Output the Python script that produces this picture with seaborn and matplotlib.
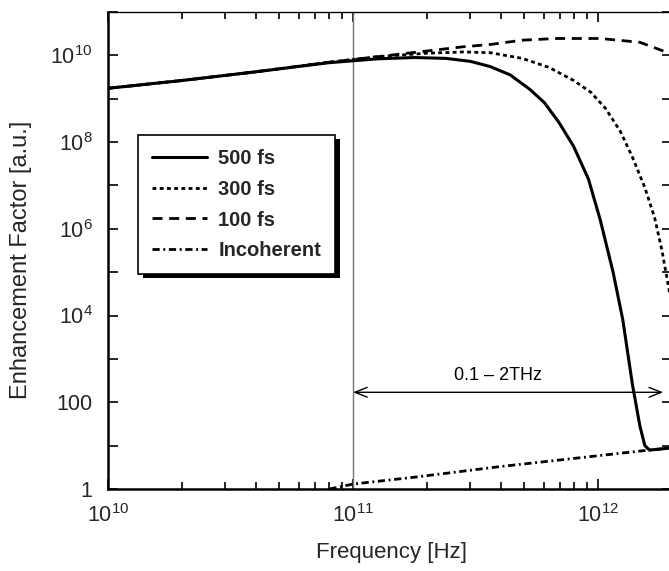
import matplotlib
matplotlib.use("Agg")
import matplotlib.pyplot as plt
import seaborn as sns
import pandas as pd
from matplotlib.patches import Rectangle
from matplotlib.ticker import FixedLocator, LogLocator, NullFormatter, NullLocator

# ---------------- data ----------------
freq_500 = [1.0e10, 2.0e10, 4.0e10, 7.94e10, 1.26e11, 1.78e11, 2.4e11, 3.02e11,
            3.63e11, 4.37e11, 5.25e11, 6.03e11, 6.92e11, 7.94e11, 9.12e11, 1.02e12,
            1.15e12, 1.26e12, 1.38e12, 1.48e12, 1.55e12, 1.62e12, 2.0e12]
enh_500 = [1.74e9, 2.63e9, 4.17e9, 6.76e9, 8.32e9, 8.91e9, 8.51e9, 7.24e9,
           5.5e9, 3.55e9, 1.66e9, 8.13e8, 2.82e8, 7.94e7, 1.41e7, 1.58e6,
           1.0e5, 7.94e3, 251, 28, 10, 7.9, 8.9]

freq_300 = [1.0e10, 2.0e10, 4.0e10, 7.94e10, 1.26e11, 2.0e11, 2.82e11, 3.63e11,
            4.9e11, 6.31e11, 7.94e11, 9.33e11, 1.07e12, 1.23e12, 1.38e12, 1.55e12,
            1.7e12, 1.82e12, 1.91e12, 2.0e12]
enh_300 = [1.74e9, 2.63e9, 4.17e9, 6.92e9, 9.33e9, 1.12e10, 1.2e10, 1.15e10,
           8.51e9, 5.25e9, 2.63e9, 1.41e9, 6.03e8, 1.78e8, 4.47e7, 8.91e6,
           1.78e6, 3.16e5, 7.08e4, 1.58e4]

freq_100 = [1.0e10, 2.0e10, 4.0e10, 7.94e10, 1.26e11, 2.0e11, 2.82e11, 3.63e11,
            4.9e11, 6.76e11, 1.02e12, 1.48e12, 1.91e12, 2.0e12]
enh_100 = [1.74e9, 2.63e9, 4.17e9, 6.92e9, 9.33e9, 1.26e10, 1.58e10, 1.78e10,
           2.24e10, 2.45e10, 2.45e10, 2.0e10, 1.17e10, 1.0e10]

freq_inc = [8.0e10, 1.0e11, 1.82e11, 3.89e11, 7.0e11, 1.51e12, 2.0e12]
enh_inc = [1.0, 1.3, 1.9, 3.24, 4.68, 7.59, 8.9]

series_labels = ["500 fs", "300 fs", "100 fs", "Incoherent"]

x_ticks = [1e10, 1e11, 1e12]
x_ticklabels = [r"$\mathdefault{10^{10}}$", r"$\mathdefault{10^{11}}$", r"$\mathdefault{10^{12}}$"]
y_ticks = [1, 10, 100, 1e3, 1e4, 1e5, 1e6, 1e7, 1e8, 1e9, 1e10, 1e11]
y_ticklabels = ["1", "", "100", "", r"$\mathdefault{10^{4}}$", "", r"$\mathdefault{10^{6}}$", "",
                r"$\mathdefault{10^{8}}$", "", r"$\mathdefault{10^{10}}$", ""]

band_label = "0.1 \u2013 2THz"
band_start, band_end, band_y = 1.0e11, 1.84e12, 170
band_text_x, band_text_y = 3.9e11, 425

# ---------------- styling ----------------
sns.set_theme(style="ticks")
plt.rcParams["font.family"] = ["Liberation Sans", "DejaVu Sans"]
plt.rcParams["axes.linewidth"] = 1.5

fig = plt.figure(figsize=(6.69, 5.71), dpi=100)
W, H = 669, 571
ax = fig.add_axes([108 / W, (H - 489) / H, 564 / W, 477 / H])
ax.set_xscale("log")
ax.set_yscale("log")

series = [
    (freq_500, enh_500, series_labels[0], "-", 2.2),
    (freq_300, enh_300, series_labels[1], (0, (1.4, 1.2)), 2.0),
    (freq_100, enh_100, series_labels[2], (0, (3.6, 2.4)), 2.0),
    (freq_inc, enh_inc, series_labels[3], (0, (2.6, 1.3, 0.7, 1.3)), 2.0),
]
for fx, fy, lab, ls, lw in series:
    df = pd.DataFrame({"freq": fx, "enh": fy})
    sns.lineplot(data=df, x="freq", y="enh", ax=ax, color="black",
                 linestyle=ls, linewidth=lw, label=lab,
                 estimator=None, sort=False)

ax.set_xlim(1e10, 2.0e12)
ax.set_ylim(1, 1e11)

ax.axvline(1e11, color="0.45", lw=1.0, zorder=1)

ax.annotate("", xy=(band_start, band_y), xytext=(band_end, band_y),
            arrowprops=dict(arrowstyle="<->,head_length=0.55,head_width=0.22",
                            lw=1.0, color="black", shrinkA=0, shrinkB=0,
                            mutation_scale=16))
ax.text(band_text_x, band_text_y, band_label, ha="center", va="center",
        fontsize=13, color="black")

# ticks
ax.xaxis.set_major_locator(FixedLocator(x_ticks))
ax.set_xticklabels(x_ticklabels)
ax.xaxis.set_minor_locator(LogLocator(base=10, subs=[2, 3, 4, 5, 6, 7, 8, 9]))
ax.xaxis.set_minor_formatter(NullFormatter())
ax.yaxis.set_major_locator(FixedLocator(y_ticks))
ax.set_yticklabels(y_ticklabels)
ax.yaxis.set_minor_locator(NullLocator())

ax.tick_params(which="both", direction="in", top=True, right=True,
               color="black", width=1.2)
ax.tick_params(which="major", length=7, labelsize=15.5, pad=11)
ax.tick_params(which="minor", length=5)

ax.spines["top"].set_linewidth(1.0)
ax.spines["left"].set_linewidth(1.8)
ax.spines["bottom"].set_linewidth(1.8)
for s in ax.spines.values():
    s.set_color("black")

ax.set_xlabel("Frequency [Hz]", fontsize=16)
ax.set_ylabel("Enhancement Factor [a.u.]", fontsize=17)
ax.xaxis.set_label_coords(0.502, -0.112)
ax.yaxis.set_label_coords(-0.135, 0.48)

leg = ax.legend(loc="upper left", bbox_to_anchor=(0.053, 0.742),
                borderaxespad=0, frameon=True, fancybox=False, shadow=False,
                prop={"weight": "bold", "size": 14.5},
                handlelength=2.75, handletextpad=0.55, labelspacing=0.58,
                borderpad=0.7)
leg.get_frame().set_edgecolor("black")
leg.get_frame().set_linewidth(1.2)
leg.get_frame().set_alpha(1.0)

# solid black drop shadow behind the legend frame
fig.canvas.draw()
bb = leg.get_frame().get_window_extent().transformed(fig.transFigure.inverted())
dx, dy = 5 / W, 4 / H
ax.add_patch(Rectangle((bb.x0 + dx, bb.y0 - dy), bb.width, bb.height,
                       transform=fig.transFigure, facecolor="black",
                       edgecolor="none", zorder=4.9, clip_on=False))

fig.savefig("out.png", dpi=100)
